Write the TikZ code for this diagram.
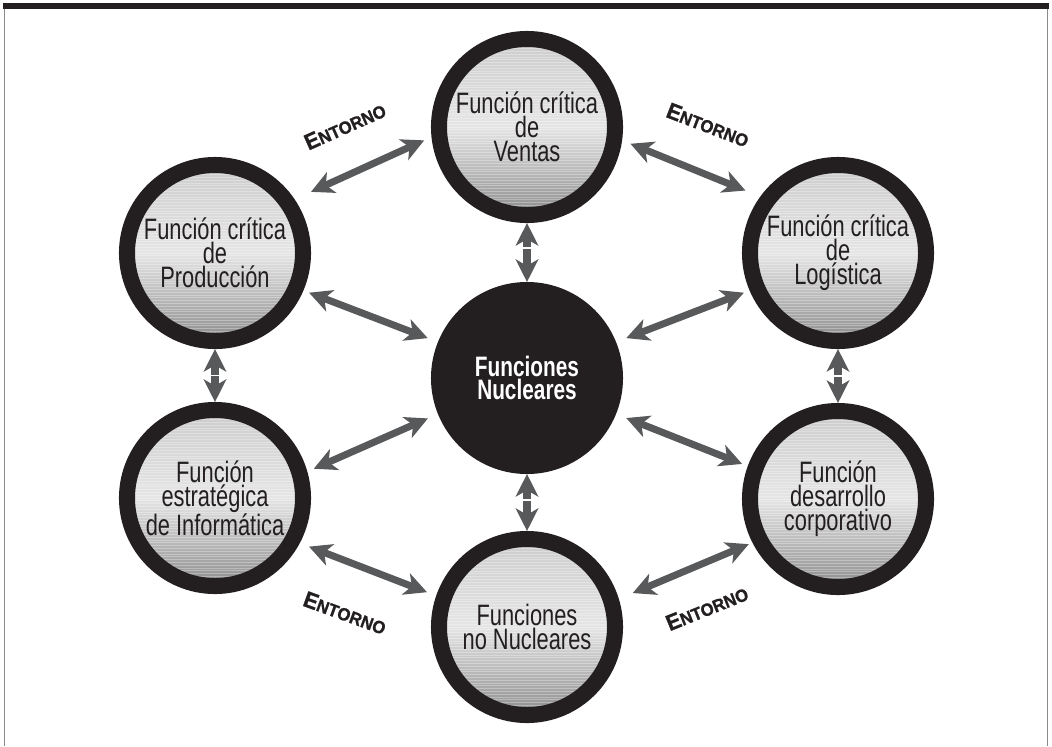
\documentclass[tikz,border=0pt]{standalone}
\usepackage{fontspec}
\setmainfont{Liberation Sans}
\newfontfamily\condfont{Liberation Sans}[FakeStretch=0.74]
\newfontfamily\nucfont{Liberation Sans}[UprightFont={* Bold}, FakeStretch=0.74]
\newfontfamily\entfont{Liberation Sans}[UprightFont={* Bold}, FakeBold=1.2, FakeStretch=0.95]
\usetikzlibrary{arrows.meta,calc}
\definecolor{ringc}{HTML}{231F20}
\definecolor{arrc}{HTML}{58595B}
\definecolor{framec}{HTML}{8A8A8A}
\newcommand\entword{{\fontsize{16pt}{16pt}\selectfont E}{\fontsize{12.5pt}{12.5pt}\selectfont NTORNO}}
\begin{document}
\begin{tikzpicture}[x=0.025cm,y=-0.025cm,
 func/.style={circle, draw=ringc, line width=11.4pt, minimum size=4.4cm, inner sep=0pt, align=center, text=ringc,
   font=\condfont\fontsize{21pt}{17pt}\selectfont,
   path picture={
     \shade[top color=gray!40, bottom color=gray!90, middle color=gray!20] (path picture bounding box.south west) rectangle (path picture bounding box.north east);
     \foreach \k in {-32,...,32}{
        \draw[white, opacity=.3, line width=.7pt] ($(path picture bounding box.center)+(-100,\k*2.8)$) -- ++(200,0);
     }
   }},
 core/.style={circle, fill=ringc, minimum size=4.8cm, inner sep=0pt, outer sep=0pt, align=center, text=white,
   font=\nucfont\fontsize{20pt}{16.5pt}\selectfont},
 link/.style={draw=arrc, line width=5pt, {Stealth[length=16pt,width=16pt,inset=4.5pt]}-{Stealth[length=16pt,width=16pt,inset=4.5pt]}},
 half/.style={draw=arrc, line width=5pt, -{Stealth[length=16pt,width=16pt,inset=4.5pt]}, shorten <=0.6pt},
 ent/.style={font=\entfont, text=ringc, inner sep=0pt}
]
\useasboundingbox (0,0) rectangle (1052,746);
% frame
\fill[ringc] (3,2.5) rectangle (1049,9);
\draw[framec, line width=1pt] (4.5,9) -- (4.5,746);
\draw[framec, line width=1pt] (1047.5,9) -- (1047.5,746);
% nodes
\node[func] (vent) at (527,127) {Función crítica\\de\\Ventas};
\node[func] (prod) at (215,253) {Función crítica\\de\\Producción};
\node[func] (logi) at (838,253) {Función crítica\\de\\Logística};
\node[func] (info) at (215,498) {Función\\estratégica\\de Informática};
\node[func] (desa) at (838,499) {Función\\desarrollo\\corporativo};
\node[func] (nonu) at (527,627) {Funciones\\no Nucleares};
\node[core] (core) at (527,378) {Funciones\\Nucleares};
% vertical split arrows
\path (vent.south) -- coordinate[pos=.42] (m1) (core.north);
\draw[half] (m1) -- (vent.south); \draw[half] (m1) -- (core.north);
\path (core.south) -- coordinate[pos=.45] (m2) (nonu.north);
\draw[half] (m2) -- (core.south); \draw[half] (m2) -- (nonu.north);
\path (prod.south) -- coordinate[pos=.5] (m3) (info.north);
\draw[half] (m3) -- (prod.south); \draw[half] (m3) -- (info.north);
\path (logi.south) -- coordinate[pos=.5] (m4) (desa.north);
\draw[half] (m4) -- (logi.south); \draw[half] (m4) -- (desa.north);
% outer ring arrows
\draw[link, shorten <=12.8pt, shorten >=5.7pt] (prod.34) -- (vent.186);
\draw[link, shorten <=6.4pt, shorten >=11.4pt] (vent.-8) -- (logi.144);
\draw[link, shorten <=7pt, shorten >=7pt] (info.-28) -- (nonu.161);
\draw[link, shorten <=10.7pt, shorten >=2.8pt] (nonu.17) -- (desa.207);
% spokes
\draw[link, shorten <=4.3pt, shorten >=7.8pt] (prod.-23) -- (core.158);
\draw[link, shorten <=5pt, shorten >=7.8pt] (info.16) -- (core.202);
\draw[link, shorten <=7.8pt, shorten >=4.3pt] (core.22) -- (logi.203);
\draw[link, shorten <=7.8pt, shorten >=4.3pt] (core.-22) -- (desa.160);
% labels
\node[ent, rotate=24] (e1) at (345,126) {\entword};
\node[ent, rotate=-21] (e2) at (708,125) {\entword};
\node[ent, rotate=-20] (e3) at (345,613) {\entword};
\node[ent, rotate=22] (e4) at (707,608) {\entword};
\end{tikzpicture}
\end{document}
